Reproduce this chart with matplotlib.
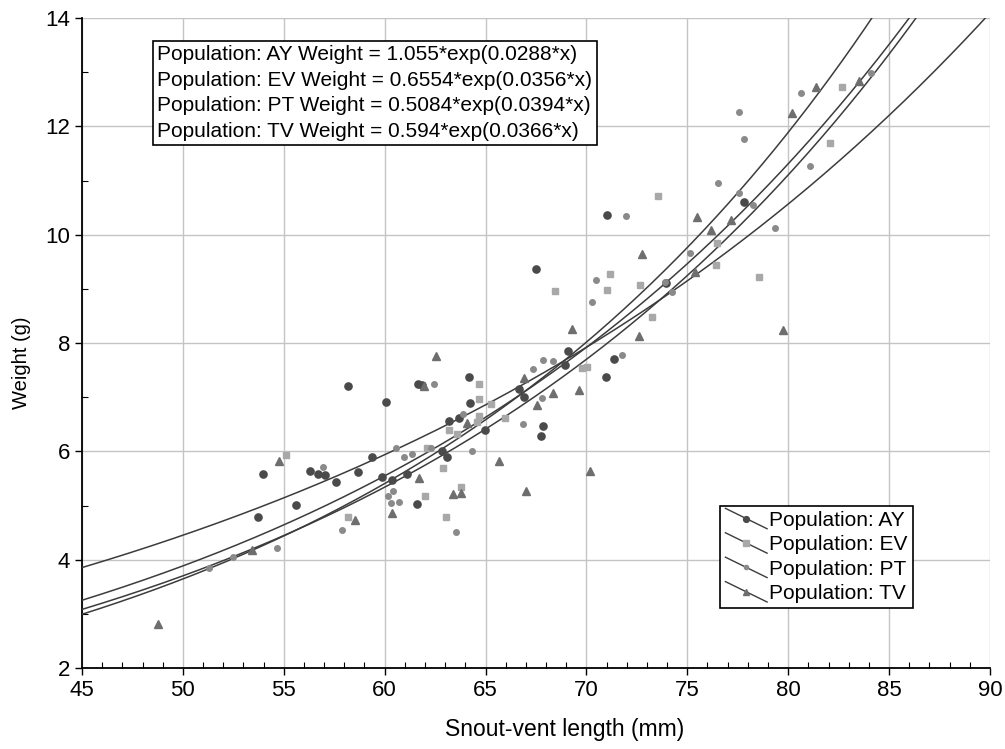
import numpy as np
import matplotlib
matplotlib.use("Agg")
import matplotlib.pyplot as plt
from matplotlib.lines import Line2D
from matplotlib.legend_handler import HandlerBase
from matplotlib.ticker import MultipleLocator

plt.rcParams['font.family'] = ['Liberation Sans', 'DejaVu Sans']

# fitted curves: weight = a*exp(b*x)
pops = ['AY', 'EV', 'PT', 'TV']
coef_a = [1.055, 0.6554, 0.5084, 0.594]
coef_b = [0.0288, 0.0356, 0.0394, 0.0366]

ay_x = [58.17, 53.95, 53.74, 55.59, 56.30, 56.69, 57.04, 57.60, 58.66, 59.39, 60.05, 61.63,
        61.85, 64.18, 64.24, 63.19, 63.68, 64.97, 62.85, 63.10, 66.64, 66.90, 59.85, 60.38,
        61.09, 61.58, 67.48, 69.10, 71.37, 70.97, 68.92, 67.86, 67.73, 71.00, 77.82, 73.94]
ay_y = [7.21, 5.58, 4.79, 5.01, 5.64, 5.58, 5.56, 5.43, 5.62, 5.89, 6.92, 7.25,
        7.23, 7.37, 6.89, 6.56, 6.62, 6.39, 6.01, 5.90, 7.16, 7.01, 5.53, 5.47,
        5.59, 5.02, 9.36, 7.86, 7.71, 7.37, 7.59, 6.47, 6.28, 10.36, 10.60, 9.10]

ev_x = [55.12, 58.17, 64.67, 64.70, 65.25, 64.67, 64.57, 63.20, 63.57, 62.08, 62.90, 61.99,
        63.78, 63.04, 68.44, 71.16, 71.00, 72.65, 73.26, 69.76, 70.04, 65.96, 82.69, 82.07,
        76.48, 76.40, 78.56, 73.56]
ev_y = [5.93, 4.79, 7.25, 6.96, 6.87, 6.65, 6.55, 6.39, 6.33, 6.06, 5.70, 5.17,
        5.35, 4.78, 8.96, 9.27, 8.97, 9.07, 8.48, 7.54, 7.55, 6.61, 12.72, 11.69,
        9.84, 9.44, 9.21, 10.71]

pt_x = [51.29, 52.50, 54.65, 57.90, 56.93, 62.44, 63.90, 62.29, 64.31, 66.87, 60.54, 60.96,
        61.34, 60.15, 60.30, 60.72, 60.43, 63.53, 70.50, 70.29, 71.74, 67.86, 67.37, 68.36,
        67.78, 73.89, 77.57, 77.80, 80.66, 84.13, 81.07, 76.50, 77.57, 78.24, 79.34, 75.13,
        71.96, 74.22]
pt_y = [3.84, 4.05, 4.21, 4.55, 5.72, 7.24, 6.69, 6.06, 6.00, 6.50, 6.07, 5.90,
        5.96, 5.17, 5.04, 5.06, 5.27, 4.52, 9.16, 8.75, 7.78, 7.69, 7.53, 7.66,
        6.98, 9.13, 12.26, 11.76, 12.61, 12.98, 11.26, 10.95, 10.77, 10.55, 10.13, 9.67,
        10.35, 8.95]

tv_x = [54.76, 53.41, 58.55, 48.77, 61.96, 62.53, 64.07, 65.68, 66.92, 67.00, 61.71, 60.38,
        63.40, 63.78, 72.78, 69.31, 72.62, 68.36, 67.53, 69.65, 70.17, 80.17, 81.36, 83.50,
        75.46, 77.16, 76.20, 75.38, 79.75]
tv_y = [5.83, 4.18, 4.74, 2.81, 7.21, 7.77, 6.52, 5.83, 7.36, 5.26, 5.50, 4.86,
        5.22, 5.23, 9.64, 8.26, 8.13, 7.07, 6.86, 7.13, 5.63, 12.24, 12.72, 12.84,
        10.33, 10.28, 10.09, 9.32, 8.24]

xs = [ay_x, ev_x, pt_x, tv_x]
ys = [ay_y, ev_y, pt_y, tv_y]
markers = ['o', 's', 'o', '^']
msizes = [5.2, 5.0, 4.0, 5.2]
mcolors = ['#4a4a4a', '#a8a8a8', '#8a8a8a', '#6e6e6e']
line_color = '#3c3c3c'


class DiagonalHandler(HandlerBase):
    # legend key drawn as a falling line with the marker in the middle
    def create_artists(self, legend, orig_handle, xdescent, ydescent,
                       width, height, fontsize, trans):
        x0, x1 = -xdescent, -xdescent + width
        y0, y1 = -ydescent + height * 1.2, -ydescent - height * 0.2
        ln = Line2D([x0, x1], [y0, y1], color=line_color, lw=1.0)
        mk = Line2D([(x0 + x1) / 2], [(y0 + y1) / 2], ls='none',
                    marker=orig_handle.get_marker(),
                    markersize=orig_handle.get_markersize(),
                    markerfacecolor=orig_handle.get_markerfacecolor(),
                    markeredgecolor=orig_handle.get_markeredgecolor())
        ln.set_transform(trans)
        mk.set_transform(trans)
        return [ln, mk]


fig = plt.figure(figsize=(10.05, 7.49), dpi=100)
ax = fig.add_axes([0.0816, 0.108, 0.9034, 0.868])

xx = np.linspace(45, 90, 400)
handles = []
for i, p in enumerate(pops):
    ax.plot(xx, coef_a[i] * np.exp(coef_b[i] * xx), color=line_color, lw=1.1, zorder=3)
    ax.plot(xs[i], ys[i], ls='none', marker=markers[i], markersize=msizes[i],
            markerfacecolor=mcolors[i], markeredgecolor=mcolors[i], zorder=4)
    handles.append(Line2D([], [], marker=markers[i], markersize=msizes[i] - 1,
                          markerfacecolor=mcolors[i], markeredgecolor=mcolors[i],
                          label='Population: ' + p))

ax.set_xlim(45, 90)
ax.set_ylim(2, 14)
ax.xaxis.set_major_locator(MultipleLocator(5))
ax.xaxis.set_minor_locator(MultipleLocator(1))
ax.yaxis.set_major_locator(MultipleLocator(2))
ax.yaxis.set_minor_locator(MultipleLocator(1))
ax.grid(True, which='major', color='#c4c4c4', lw=1.0)
ax.set_axisbelow(True)
for s in ['top', 'right']:
    ax.spines[s].set_visible(False)
for s in ['left', 'bottom']:
    ax.spines[s].set_linewidth(1.3)
ax.tick_params(which='major', direction='out', length=5, width=1, labelsize=16)
ax.tick_params(which='minor', direction='in', length=4, width=0.8)
ax.set_xlabel('Snout-vent length (mm)', fontsize=16.5)
ax.set_ylabel('Weight (g)', fontsize=14.5)
ax.xaxis.set_label_coords(0.532, -0.077)
ax.yaxis.set_label_coords(-0.056, 0.47)

eq_lines = ['Population: %s Weight = %s*exp(%s*x)' % (p, a, b)
            for p, a, b in zip(pops, coef_a, coef_b)]
ax.text(0.083, 0.958, '\n'.join(eq_lines), transform=ax.transAxes, fontsize=15,
        va='top', ha='left', linespacing=1.43, zorder=6,
        bbox=dict(boxstyle='square,pad=0.22', fc='white', ec='black', lw=1.2))

leg = ax.legend(handles=handles, loc='lower right', bbox_to_anchor=(0.915, 0.092),
                handler_map={Line2D: DiagonalHandler()}, fontsize=15,
                handlelength=2.0, handletextpad=0.1, labelspacing=0.26,
                borderpad=0.25, borderaxespad=0, fancybox=False, framealpha=1,
                edgecolor='black')
leg.get_frame().set_linewidth(1.2)

fig.savefig('out.png', dpi=100)
